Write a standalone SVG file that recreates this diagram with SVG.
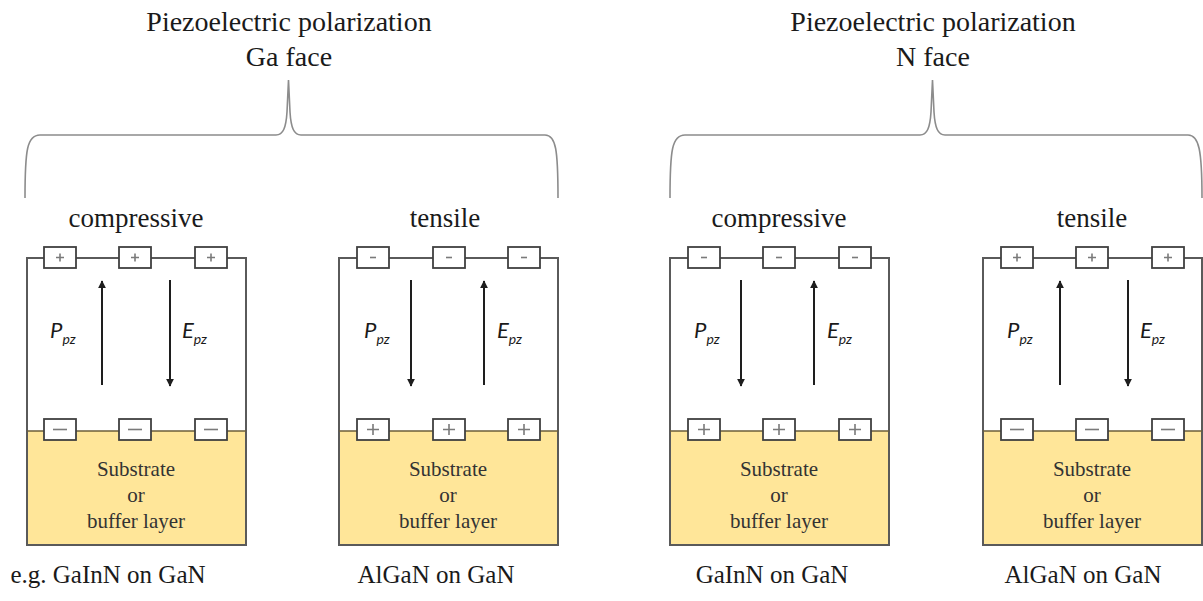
<svg xmlns="http://www.w3.org/2000/svg" xmlns:xlink="http://www.w3.org/1999/xlink" width="1203" height="601" viewBox="0 0 1203 601">
  <style>
    .pz-hd { font-size: 28px; text-anchor: middle; fill: #1a1a1a; }
    .pz-cs { font-size: 27px; text-anchor: middle; fill: #1a1a1a; }
    .pz-lb { font-size: 25px; text-anchor: middle; fill: #1a1a1a; }
    .pz-sb { font-size: 21px; text-anchor: middle; fill: #333333; }
    .pz-sym { font-style: italic; font-size: 22px; fill: #1a1a1a; }
    .brace { fill: none; stroke: #8c8c8c; stroke-width: 1.6; }
    .frame { fill: none; stroke: #5a5a5a; stroke-width: 2; }
    .layer { fill: #ffe699; stroke: none; }
    .seam { stroke: #6b5e3a; stroke-width: 1.5; }
    .cbox { fill: #ffffff; stroke: #404040; stroke-width: 1.8; }
    .sign { stroke: #7a7a7a; stroke-width: 1.6; fill: none; }
    .vec { stroke: #1e1e1e; stroke-width: 2; fill: none; }
  </style>
  <defs>
    <marker id="head" viewBox="0 0 10 10" refX="9" refY="5" markerWidth="4" markerHeight="4" orient="auto" markerUnits="strokeWidth">
      <path d="M0,0 L10,5 L0,10 z" fill="#1e1e1e"/>
    </marker>
    <!-- charge boxes: small signs sit on the top surface, larger ones at the interface -->
    <g id="plusTop"><rect class="cbox" x="0" y="0" width="32" height="21"/><path class="sign" d="M12,10.5 H20 M16,6.5 V14.5"/></g>
    <g id="minusTop"><rect class="cbox" x="0" y="0" width="32" height="21"/><path class="sign" d="M13,10.5 H19"/></g>
    <g id="plusBot"><rect class="cbox" x="0" y="0" width="32" height="21"/><path class="sign" d="M10,10.5 H22 M16,5 V16"/></g>
    <g id="minusBot"><rect class="cbox" x="0" y="0" width="32" height="21"/><path class="sign" d="M9,10.5 H23"/></g>
  </defs>

  <!-- headings -->
  <g id="head-ga">
    <text class="pz-hd" x="289" y="31" style="font-family:'Liberation Serif',serif">Piezoelectric polarization</text>
    <text class="pz-hd" x="289" y="66" style="font-family:'Liberation Serif',serif">Ga face</text>
  </g>
  <g id="head-n">
    <text class="pz-hd" x="933" y="31" style="font-family:'Liberation Serif',serif">Piezoelectric polarization</text>
    <text class="pz-hd" x="933" y="66" style="font-family:'Liberation Serif',serif">N face</text>
  </g>

  <!-- connectors: curly braces grouping the strain cases -->
  <g id="connectors">
    <path class="brace" d="M25,198 C25,150 27,135 40,135 L276,135 C283,135 286,128 287,112 L288.5,80 L290,112 C291,128 294,135 301,135 L545,135 C556,135 558,150 558,198"/>
    <path class="brace" d="M670,198 C670,150 672,135 685,135 L920,135 C927,135 930,128 931,112 L932.5,80 L934,112 C935,128 938,135 945,135 L1188,135 C1199,135 1202,150 1202,198"/>
  </g>

  <!-- Ga face, compressive -->
  <g id="ga-compressive">
    <text class="pz-cs" x="136" y="227" style="font-family:'Liberation Serif',serif">compressive</text>
    <rect class="layer" x="27" y="431" width="219" height="114"/>
    <path class="frame" d="M27,258 H246 V545 H27 Z"/>
    <line class="seam" x1="27" y1="431" x2="246" y2="431"/>
    <use xlink:href="#plusTop" x="44" y="247"/><use xlink:href="#plusTop" x="119" y="247"/><use xlink:href="#plusTop" x="195" y="247"/>
    <use xlink:href="#minusBot" x="44" y="419"/><use xlink:href="#minusBot" x="119" y="419"/><use xlink:href="#minusBot" x="195" y="419"/>
    <line class="vec" x1="102" y1="385" x2="102" y2="281" marker-end="url(#head)"/>
    <line class="vec" x1="170" y1="280" x2="170" y2="386" marker-end="url(#head)"/>
    <text class="pz-sym" x="50" y="338" style="font-family:Lato,sans-serif">P<tspan font-size="14" dy="6">pz</tspan></text>
    <text class="pz-sym" x="182" y="338" style="font-family:Lato,sans-serif">E<tspan font-size="14" dy="6">pz</tspan></text>
    <text class="pz-sb" x="136" y="476" style="font-family:'Liberation Serif',serif">Substrate</text>
    <text class="pz-sb" x="136" y="502" style="font-family:'Liberation Serif',serif">or</text>
    <text class="pz-sb" x="136" y="528" style="font-family:'Liberation Serif',serif">buffer layer</text>
    <text class="pz-lb" x="108" y="583" style="font-family:'Liberation Serif',serif">e.g. GaInN on GaN</text>
  </g>

  <!-- Ga face, tensile -->
  <g id="ga-tensile">
    <text class="pz-cs" x="445" y="227" style="font-family:'Liberation Serif',serif">tensile</text>
    <rect class="layer" x="339" y="431" width="219" height="114"/>
    <path class="frame" d="M339,258 H558 V545 H339 Z"/>
    <line class="seam" x1="339" y1="431" x2="558" y2="431"/>
    <use xlink:href="#minusTop" x="357" y="247"/><use xlink:href="#minusTop" x="433" y="247"/><use xlink:href="#minusTop" x="508" y="247"/>
    <use xlink:href="#plusBot" x="357" y="419"/><use xlink:href="#plusBot" x="433" y="419"/><use xlink:href="#plusBot" x="508" y="419"/>
    <line class="vec" x1="411" y1="280" x2="411" y2="386" marker-end="url(#head)"/>
    <line class="vec" x1="484" y1="385" x2="484" y2="281" marker-end="url(#head)"/>
    <text class="pz-sym" x="364" y="338" style="font-family:Lato,sans-serif">P<tspan font-size="14" dy="6">pz</tspan></text>
    <text class="pz-sym" x="497" y="338" style="font-family:Lato,sans-serif">E<tspan font-size="14" dy="6">pz</tspan></text>
    <text class="pz-sb" x="448" y="476" style="font-family:'Liberation Serif',serif">Substrate</text>
    <text class="pz-sb" x="448" y="502" style="font-family:'Liberation Serif',serif">or</text>
    <text class="pz-sb" x="448" y="528" style="font-family:'Liberation Serif',serif">buffer layer</text>
    <text class="pz-lb" x="436" y="583" style="font-family:'Liberation Serif',serif">AlGaN on GaN</text>
  </g>

  <!-- N face, compressive -->
  <g id="n-compressive">
    <text class="pz-cs" x="779" y="227" style="font-family:'Liberation Serif',serif">compressive</text>
    <rect class="layer" x="670" y="431" width="219" height="114"/>
    <path class="frame" d="M670,258 H889 V545 H670 Z"/>
    <line class="seam" x1="670" y1="431" x2="889" y2="431"/>
    <use xlink:href="#minusTop" x="688" y="247"/><use xlink:href="#minusTop" x="763" y="247"/><use xlink:href="#minusTop" x="839" y="247"/>
    <use xlink:href="#plusBot" x="688" y="419"/><use xlink:href="#plusBot" x="763" y="419"/><use xlink:href="#plusBot" x="839" y="419"/>
    <line class="vec" x1="741" y1="280" x2="741" y2="386" marker-end="url(#head)"/>
    <line class="vec" x1="814" y1="385" x2="814" y2="281" marker-end="url(#head)"/>
    <text class="pz-sym" x="694" y="338" style="font-family:Lato,sans-serif">P<tspan font-size="14" dy="6">pz</tspan></text>
    <text class="pz-sym" x="827" y="338" style="font-family:Lato,sans-serif">E<tspan font-size="14" dy="6">pz</tspan></text>
    <text class="pz-sb" x="779" y="476" style="font-family:'Liberation Serif',serif">Substrate</text>
    <text class="pz-sb" x="779" y="502" style="font-family:'Liberation Serif',serif">or</text>
    <text class="pz-sb" x="779" y="528" style="font-family:'Liberation Serif',serif">buffer layer</text>
    <text class="pz-lb" x="772" y="583" style="font-family:'Liberation Serif',serif">GaInN on GaN</text>
  </g>

  <!-- N face, tensile -->
  <g id="n-tensile">
    <text class="pz-cs" x="1092" y="227" style="font-family:'Liberation Serif',serif">tensile</text>
    <rect class="layer" x="983" y="431" width="219" height="114"/>
    <path class="frame" d="M983,258 H1202 V545 H983 Z"/>
    <line class="seam" x1="983" y1="431" x2="1202" y2="431"/>
    <use xlink:href="#plusTop" x="1001" y="247"/><use xlink:href="#plusTop" x="1076" y="247"/><use xlink:href="#plusTop" x="1152" y="247"/>
    <use xlink:href="#minusBot" x="1001" y="419"/><use xlink:href="#minusBot" x="1076" y="419"/><use xlink:href="#minusBot" x="1152" y="419"/>
    <line class="vec" x1="1060" y1="385" x2="1060" y2="281" marker-end="url(#head)"/>
    <line class="vec" x1="1128" y1="280" x2="1128" y2="386" marker-end="url(#head)"/>
    <text class="pz-sym" x="1007" y="338" style="font-family:Lato,sans-serif">P<tspan font-size="14" dy="6">pz</tspan></text>
    <text class="pz-sym" x="1140" y="338" style="font-family:Lato,sans-serif">E<tspan font-size="14" dy="6">pz</tspan></text>
    <text class="pz-sb" x="1092" y="476" style="font-family:'Liberation Serif',serif">Substrate</text>
    <text class="pz-sb" x="1092" y="502" style="font-family:'Liberation Serif',serif">or</text>
    <text class="pz-sb" x="1092" y="528" style="font-family:'Liberation Serif',serif">buffer layer</text>
    <text class="pz-lb" x="1083" y="583" style="font-family:'Liberation Serif',serif">AlGaN on GaN</text>
  </g>
</svg>
